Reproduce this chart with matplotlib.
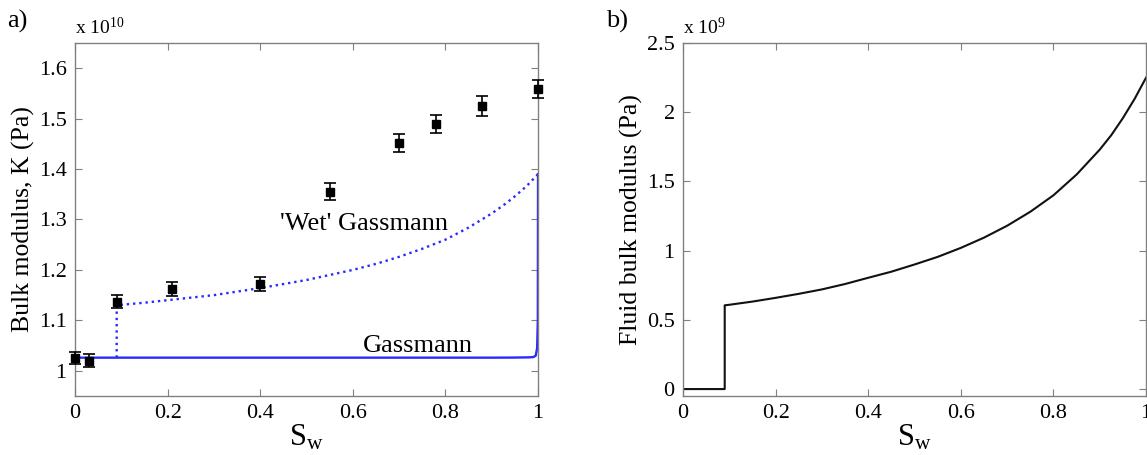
import numpy as np
import matplotlib
matplotlib.use("Agg")
import matplotlib.pyplot as plt

# Measured bulk modulus (x 1e10 Pa) vs water saturation
sw_meas = [0.0, 0.03, 0.09, 0.21, 0.40, 0.55, 0.70, 0.78, 0.88, 1.0]
k_meas = [1.026, 1.020, 1.137, 1.162, 1.172, 1.355, 1.451, 1.490, 1.525, 1.558]
k_err = [0.012, 0.013, 0.013, 0.014, 0.014, 0.017, 0.018, 0.018, 0.019, 0.018]

# Gassmann (uniform saturation) curve, x 1e10 Pa
sw_gass = [0.0, 0.90, 0.95, 0.98, 0.99, 0.995, 0.998, 0.9995, 1.0]
k_gass = [1.026, 1.026, 1.0262, 1.0266, 1.0272, 1.030, 1.045, 1.10, 1.390]

# 'Wet' Gassmann curve, x 1e10 Pa
sw_wet = [0.09, 0.09, 0.15, 0.2, 0.25, 0.3, 0.4, 0.5, 0.6, 0.65, 0.7, 0.75, 0.8,
          0.85, 0.9, 0.925, 0.95, 0.975, 1.0]
k_wet = [1.026, 1.130, 1.135, 1.140, 1.145, 1.150, 1.164, 1.180, 1.200, 1.212,
         1.226, 1.242, 1.260, 1.284, 1.312, 1.328, 1.346, 1.366, 1.390]

# Fluid bulk modulus, x 1e9 Pa
sw_fluid = [0.0, 0.09, 0.09, 0.1, 0.15, 0.2, 0.25, 0.3, 0.35, 0.4, 0.45, 0.5, 0.55,
            0.6, 0.65, 0.7, 0.75, 0.8, 0.85, 0.9, 0.925, 0.95, 0.975, 1.0]
k_fluid = [0.0, 0.0, 0.605, 0.609, 0.632, 0.659, 0.688, 0.720, 0.759, 0.804, 0.848,
           0.900, 0.955, 1.020, 1.094, 1.180, 1.281, 1.400, 1.550, 1.730, 1.835,
           1.958, 2.095, 2.250]

plt.rcParams['font.family'] = ['Liberation Serif', 'DejaVu Serif']
plt.rcParams['mathtext.fontset'] = 'custom'
plt.rcParams['mathtext.rm'] = 'Liberation Serif'
plt.rcParams['mathtext.it'] = 'Liberation Serif'

spine_col = '#808080'
blue = '#2a2aff'

fig = plt.figure(figsize=(11.47, 4.55), dpi=100)
ax1 = fig.add_axes([0.0654, 0.1297, 0.4037, 0.7758])
ax2 = fig.add_axes([0.5955, 0.1297, 0.4037, 0.7758])

# Panel a
ax1.plot(sw_gass, k_gass, '-', color=blue, lw=1.7)
ax1.plot(sw_wet, k_wet, ':', color=blue, lw=1.7)
ax1.errorbar(sw_meas, k_meas, yerr=k_err, fmt='s', color='k', ms=5.5,
             capsize=4, elinewidth=1.2, capthick=1.2, clip_on=False, zorder=5)
ax1.set_xlim(0, 1)
ax1.set_ylim(0.95, 1.65)
ax1.set_xticks([0, 0.2, 0.4, 0.6, 0.8, 1.0])
ax1.set_xticklabels(['0', '0.2', '0.4', '0.6', '0.8', '1'])
ax1.set_yticks([1.0, 1.1, 1.2, 1.3, 1.4, 1.5, 1.6])
ax1.set_yticklabels(['1', '1.1', '1.2', '1.3', '1.4', '1.5', '1.6'])
ax1.set_ylabel('Bulk modulus, K (Pa)', fontsize=18.5, labelpad=3)
ax1.text(0.806, 1.280, "'Wet' Gassmann", fontsize=19, ha='right', va='baseline')
ax1.text(0.860, 1.038, 'Gassmann', fontsize=19, ha='right', va='baseline')
ax1.text(0.0, 1.015, r'x 10$^{10}$', transform=ax1.transAxes, fontsize=14,
         ha='left', va='bottom')
fig.text(0.006, 0.928, 'a)', fontsize=19, ha='left', va='bottom')

# Panel b
ax2.plot(sw_fluid, k_fluid, '-', color='#111111', lw=1.5)
ax2.set_xlim(0, 1)
ax2.set_ylim(-0.05, 2.5)
ax2.set_xticks([0, 0.2, 0.4, 0.6, 0.8, 1.0])
ax2.set_xticklabels(['0', '0.2', '0.4', '0.6', '0.8', '1'])
ax2.set_yticks([0, 0.5, 1.0, 1.5, 2.0, 2.5])
ax2.set_yticklabels(['0', '0.5', '1', '1.5', '2', '2.5'])
ax2.set_ylabel('Fluid bulk modulus (Pa)', fontsize=18.5, labelpad=3)
ax2.text(0.0, 1.015, r'x 10$^{9}$', transform=ax2.transAxes, fontsize=14,
         ha='left', va='bottom')
fig.text(0.528, 0.928, 'b)', fontsize=19, ha='left', va='bottom')

for ax in (ax1, ax2):
    ax.set_xlabel(r'$\mathrm{S_w}$', fontsize=22, labelpad=0)
    for s in ax.spines.values():
        s.set_color(spine_col)
        s.set_linewidth(1.0)
    ax.tick_params(direction='in', top=True, right=True, length=5,
                   color=spine_col, labelsize=16, pad=6)

fig.savefig('out.png', dpi=100)
